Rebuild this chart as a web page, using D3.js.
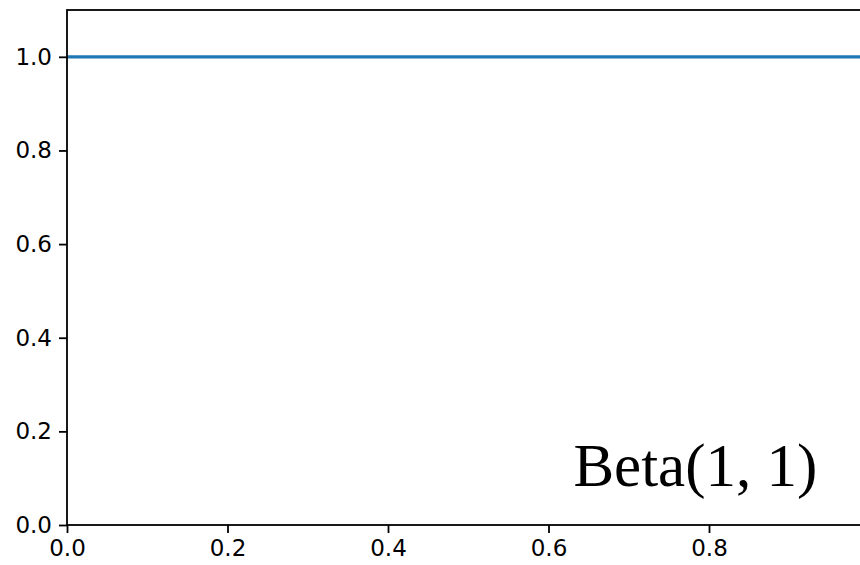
<!DOCTYPE html>
<html><head><meta charset="utf-8">
<script src="https://cdn.jsdelivr.net/npm/d3@7"></script>
<style>body{margin:0;background:#fff}svg{display:block}</style>
</head><body>
<script>
const xValues = [0, 1];
const yValues = [1, 1];
const xTicks = [0, 0.2, 0.4, 0.6, 0.8];
const yTicks = [0, 0.2, 0.4, 0.6, 0.8, 1.0];
const label = "Beta(1, 1)";

(function () {
const W = 860, H = 565;
const mLeft = 67, mTop = 10, mBottom = 525, mRight = 869.5;
const svg = d3.select("body").append("svg").attr("width", W).attr("height", H);
const x = d3.scaleLinear().domain([0, 1]).range([mLeft, mRight]);
const y = d3.scaleLinear().domain([0, 1.1]).range([mBottom, mTop]);

const line = d3.line().x((d, i) => x(xValues[i])).y(d => y(d));
svg.append("path").datum(yValues).attr("d", line)
  .attr("fill", "none").attr("stroke", "#1f77b4").attr("stroke-width", 3.3);

const fmt = d3.format(".1f");
const xa = svg.append("g").attr("transform", `translate(0,${mBottom})`)
  .call(d3.axisBottom(x).tickValues(xTicks).tickFormat(fmt).tickSize(8).tickPadding(7));
const ya = svg.append("g").attr("transform", `translate(${mLeft},0)`)
  .call(d3.axisLeft(y).tickValues(yTicks).tickFormat(fmt).tickSize(8).tickPadding(7));
[xa, ya].forEach(g => {
  g.attr("font-size", 23).attr("font-family", "DejaVu Sans");
  g.select(".domain").remove();
  g.selectAll("line").attr("stroke", "#000").attr("stroke-width", 1.8);
  g.selectAll("text").attr("fill", "#000");
});

svg.append("rect").attr("x", mLeft).attr("y", mTop).attr("width", mRight - mLeft).attr("height", mBottom - mTop)
  .attr("fill", "none").attr("stroke", "#000").attr("stroke-width", 1.8);

svg.append("text").attr("x", x(0.935)).attr("y", 486).attr("text-anchor", "end")
  .attr("font-family", "Liberation Serif").attr("font-size", 61).attr("fill", "#000").text(label);
})();
</script>
</body></html>
